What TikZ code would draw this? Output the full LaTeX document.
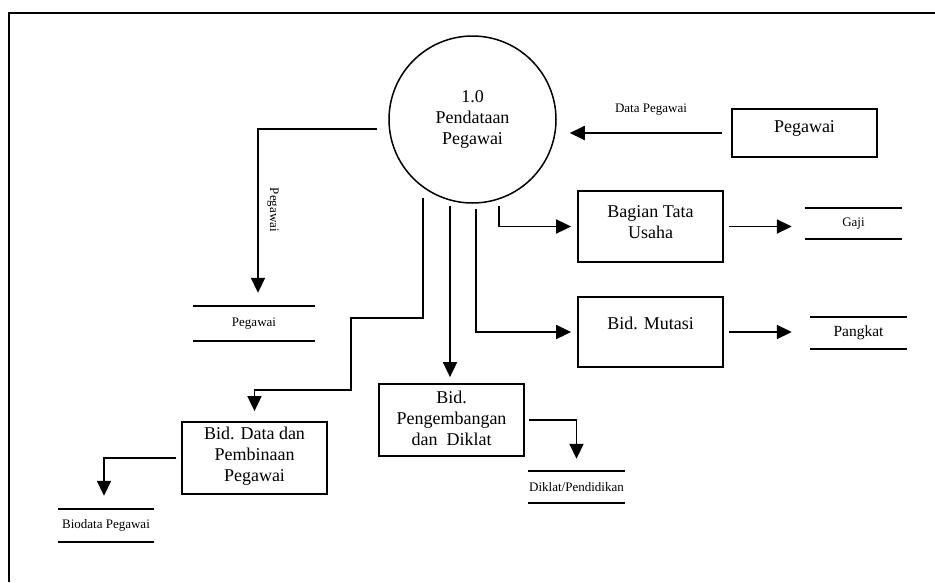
\documentclass[tikz,border=0pt]{standalone}
\usepackage{fontspec}
\setmainfont{Liberation Serif}
\usetikzlibrary{arrows.meta,calc}
\begin{document}
\begin{tikzpicture}[x=1pt,y=-1pt,
  big/.style={font=\fontsize{18}{21}\selectfont, align=center},
  small/.style={font=\fontsize{13}{15}\selectfont},
  entity/.style={draw, line width=1.8pt, inner sep=0pt},
  process/.style={draw, circle, line width=1.5pt, minimum size=167pt, inner sep=0pt, big},
  store/.style={inner sep=0pt, small},
  flow/.style={line width=1.8pt, -{Triangle[length=15pt,width=14pt]}},
  storeline/.style={line width=1.8pt}]
\useasboundingbox (0,0) rectangle (935,582);
\draw[line width=2pt] (9,582) -- (9,13) -- (935,13);

% process
\node[process] (proc) at (472.5,119.5) {1.0\\Pendataan\\Pegawai};

% entities
\node[entity, minimum width=145pt, minimum height=48pt,
      label={[big,yshift=5pt]center:Pegawai}] (pegent) at (804.5,133) {};
\node[entity, minimum width=145pt, minimum height=71pt,
      label={[big,yshift=4pt]center:Bagian Tata\\Usaha}] (bagian) at (650.5,226.5) {};
\node[entity, minimum width=145pt, minimum height=70pt,
      label={[big,yshift=9pt]center:Bid. Mutasi}] (mutasi) at (650.5,332) {};
\node[entity, minimum width=145pt, minimum height=72pt,
      label={[big,yshift=2pt]center:Bid. Data dan\\Pembinaan\\Pegawai}] (biddata) at (254.5,458) {};
\node[entity, minimum width=145pt, minimum height=72pt,
      label={[big,yshift=2pt]center:Bid.\\Pengembangan\\dan~ Diklat}] (peng) at (451.5,420) {};

% data stores
\node[store, minimum width=122pt, minimum height=35pt] (pstore) at (254,323.5) {Pegawai};
\node[store, minimum width=97pt, minimum height=31pt] (gaji) at (853.5,223.5) {Gaji};
\node[store, minimum width=97pt, minimum height=32pt, font=\fontsize{15.5}{17}\selectfont] (pangkat) at (858.5,333) {Pangkat};
\node[store, minimum width=97pt, minimum height=32pt] (diklat) at (576.5,487) {Diklat/Pendidikan};
\node[store, minimum width=96pt, minimum height=33pt] (biodata) at (106,525.5) {Biodata Pegawai};
\foreach \s in {pstore,gaji,pangkat,diklat,biodata}{
  \draw[storeline] (\s.north west) -- (\s.north east);
  \draw[storeline] (\s.south west) -- (\s.south east);
}

% flows
\draw[flow] ([shift={(-11pt,-9.5pt)}]proc.west) -| ([shift={(4pt,13pt)}]pstore.north);
\node[small, rotate=-90] (lblpeg) at (273,210) {Pegawai};

\draw[flow] ([xshift=-9pt]pegent.west) -- ($(proc.east |- pegent.west)+(13pt,0)$);
\node[small] (lbldata) at (651,110) {Data Pegawai};

\draw[flow] ([shift={(26.5pt,-2pt)}]proc.south) |- ([xshift=-6pt]bagian.west);
\draw[flow] ([shift={(3.5pt,-5pt)}]proc.south) |- ([xshift=-6pt]mutasi.west);
\draw[flow] ([shift={(-22.5pt,-2pt)}]proc.south) -- ([shift={(-1.5pt,6pt)}]peng.north);
\draw[flow] ([shift={(-49.5pt,6pt)}]proc.south) -- ++(0,120) -- ++(-72,0) -- ++(0,72)
            -| ([yshift=10pt]biddata.north);

\draw[flow] ([xshift=5pt]bagian.east) -- ($(bagian.east -| gaji.west)+(-13pt,0)$);
\draw[flow] ([xshift=5pt]mutasi.east) -- ($(mutasi.east -| pangkat.west)+(-18pt,0)$);
\draw[flow] ([xshift=4pt]peng.east) -| ([yshift=12pt]diklat.north);
\draw[flow] ([xshift=-5pt]biddata.west) -| ([shift={(-2pt,13pt)}]biodata.north);
\end{tikzpicture}
\end{document}
